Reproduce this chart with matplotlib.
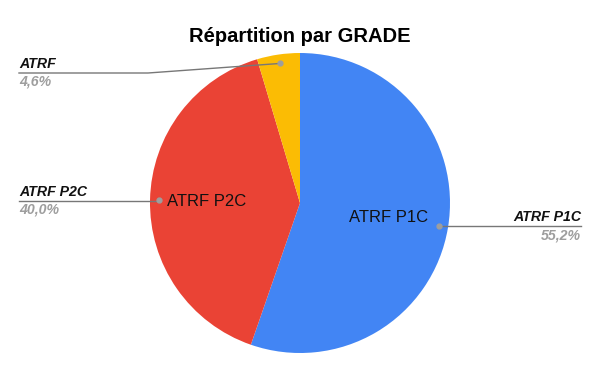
import numpy as np
import matplotlib.pyplot as plt

plt.rcParams['font.family'] = ['Liberation Sans', 'DejaVu Sans']

labels = ['ATRF P1C', 'ATRF P2C', 'ATRF']
values = [55.2, 40.0, 4.6]
pct_text = ['55,2%', '40,0%', '4,6%']
colors = ['#4285F4', '#EA4335', '#FBBC04']

W, H = 600, 371
fig = plt.figure(figsize=(6, 3.71), dpi=100)
ax = fig.add_axes([0, 0, 1, 1])

cx, cy, r = 300, H - 203, 150
wedges, _ = ax.pie(values, colors=colors, startangle=90, counterclock=False,
                   center=(cx, cy), radius=r, frame=True,
                   wedgeprops=dict(linewidth=0))
ax.set_xlim(0, W)
ax.set_ylim(0, H)
ax.set_aspect('equal')
ax.axis('off')

# leader lines: label x, line y, side
outer = {
    'ATRF P1C': (581, H - 226, 'right'),
    'ATRF P2C': (19, H - 201, 'left'),
    'ATRF': (19, H - 73, 'left'),
}
for w, lab, pct in zip(wedges, labels, pct_text):
    ang = np.deg2rad((w.theta1 + w.theta2) / 2)
    dx = cx + 0.94 * r * np.cos(ang)
    dy = cy + 0.94 * r * np.sin(ang)
    tx, ly, side = outer[lab]
    ax.plot(dx, dy, 'o', color='#9e9e9e', ms=3.5, zorder=5)
    if abs(dy - ly) > 2:
        ax.plot([tx, 148, dx], [ly, ly, dy], color='#777777', lw=1, zorder=4)
    else:
        ax.plot([tx, dx], [ly, ly], color='#777777', lw=1, zorder=4)
    ax.text(tx, ly + 5, lab, ha=side, va='baseline', fontsize=10.2,
            fontweight='bold', style='italic', color='#111111')
    ax.text(tx, ly - 13, pct, ha=side, va='baseline', fontsize=10.2,
            fontweight='bold', style='italic', color='#9e9e9e')

# labels inside the big slices
ax.text(167, H - 202, labels[1], ha='left', va='center', fontsize=12, color='#111111')
ax.text(428, H - 218, labels[0], ha='right', va='center', fontsize=12, color='#111111')

ax.text(W / 2, H - 42, 'Répartition par GRADE', ha='center', va='baseline',
        fontsize=14.5, fontweight='bold', color='#000000')

fig.savefig('out.png', dpi=100)
